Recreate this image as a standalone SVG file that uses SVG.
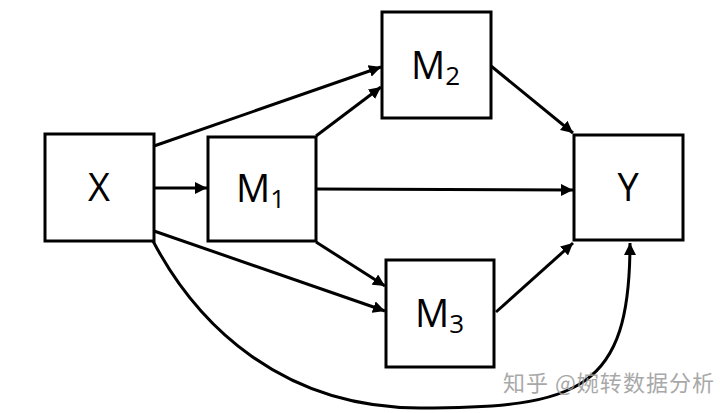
<svg xmlns="http://www.w3.org/2000/svg" width="720" height="413" viewBox="0 0 720 413">
<defs>
<marker id="ah" viewBox="0 0 10 10" refX="10" refY="5" markerWidth="4" markerHeight="4" markerUnits="strokeWidth" orient="auto">
<path d="M0,0 L10,5 L0,10 z" fill="#000"/>
</marker>
<style>
.box{fill:#fff;stroke:#000;stroke-width:3}
.lbl{font-family:"Open Sans","Liberation Sans",sans-serif;font-size:38px;fill:#000}
.sub{font-size:26px}
.edge{fill:none;stroke:#000;stroke-width:3;marker-end:url(#ah)}
.wm{font-family:"Noto Sans CJK SC",sans-serif;font-size:22px;fill:#9a9a9a;opacity:0.85}
</style>
</defs>
<rect width="720" height="413" fill="#fff"/>
<g id="connectors">
<path class="edge" d="M154,188 L207,188"/>
<path class="edge" d="M154,146 L381,67"/>
<path class="edge" d="M316,136 L381,87"/>
<path class="edge" d="M316,189 L573,190"/>
<path class="edge" d="M491,66 L573,133"/>
<path class="edge" d="M154,231 L385,311"/>
<path class="edge" d="M316,242 L385,286"/>
<path class="edge" d="M496,312 L573,243"/>
<path class="edge" d="M153,241 C197,325 282,408 420,408 C580,408 630,390 630,243"/>
</g>
<g id="X"><rect class="box" x="45" y="134" width="109" height="107"/><text class="lbl" x="99" y="201" text-anchor="middle">X</text></g>
<g id="M1"><rect class="box" x="208" y="137" width="108" height="104"/><text class="lbl" x="236" y="202">M<tspan class="sub" dy="6">1</tspan></text></g>
<g id="M2"><rect class="box" x="382" y="12" width="109" height="106"/><text class="lbl" x="411" y="79">M<tspan class="sub" dy="6">2</tspan></text></g>
<g id="M3"><rect class="box" x="386" y="260" width="108" height="107"/><text class="lbl" x="415" y="327">M<tspan class="sub" dy="6">3</tspan></text></g>
<g id="Y"><rect class="box" x="574" y="135" width="109" height="105"/><text class="lbl" x="628" y="201" text-anchor="middle">Y</text></g>
<text class="wm" x="503" y="391" textLength="211">知乎 @婉转数据分析</text>
</svg>
